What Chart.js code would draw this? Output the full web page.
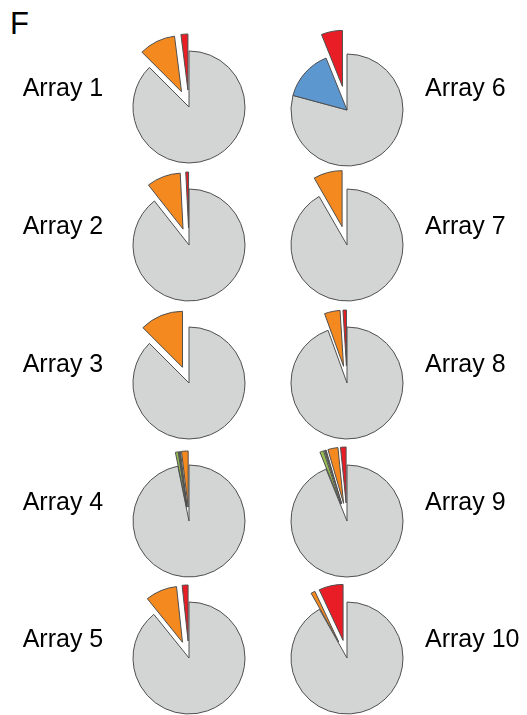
<!DOCTYPE html>
<html>
<head>
<meta charset="utf-8">
<script src="https://cdn.jsdelivr.net/npm/chart.js@4/dist/chart.umd.min.js"></script>
<style>
  html, body { margin: 0; padding: 0; background: #fff; }
  #fig { position: relative; width: 527px; height: 715px; overflow: hidden;
         font-family: "Liberation Sans", Arial, Helvetica, sans-serif; color: #000; }
  .lbl { position: absolute; font-size: 25px; line-height: 25px; white-space: nowrap; }
  .panel { position: absolute; font-size: 31px; line-height: 31px; }
  #fig canvas { position: absolute; }
</style>
</head>
<body>
<div id="fig"></div>
<script>
// Arrays shown, in reading order (left column 1-5, right column 6-10)
const categories = ['Array 1', 'Array 2', 'Array 3', 'Array 4', 'Array 5',
                    'Array 6', 'Array 7', 'Array 8', 'Array 9', 'Array 10'];

// Slice groups, listed clockwise from 12 o'clock
const sliceNames = ['Grey', 'Green', 'Dark', 'Blue', 'Orange', 'Red'];

// Share of each array (%) in every group
const greyShare   = [87.5, 89.4, 87.5, 96.8, 89.2, 79.2, 91.7, 94.5, 93.9, 91.8];
const greenShare  = [0,    0,    0,    0.8,  0,    0,    0,    0,    1.1,  0];
const darkShare   = [0,    0,    0,    0.5,  0,    0,    0,    0,    0.5,  0];
const blueShare   = [0,    0,    0,    0,    0,    14.7, 0,    0,    0,    0];
const orangeShare = [10.5, 9.8,  12.5, 1.9,  9.1,  0,    8.3,  4.5,  2.9,  1.2];
const redShare    = [2.0,  0.8,  0,    0,    1.7,  6.1,  0,    1.0,  1.6,  7.0];

const seriesByGroup = [greyShare, greenShare, darkShare, blueShare, orangeShare, redShare];
const groupColors = ['#d3d4d4', '#97bd50', '#56604c', '#5c97d0', '#f4891f', '#e81d26'];
// groups that stay attached to the pie body
const attachedGroups = ['Grey', 'Blue'];

// pie placement
const colX = [189, 346.5];
const rowY = [107, 245, 383, 521, 658];
const centerShiftY = [0, 0, 0, 0, 0, 3, 0, 0, 0, 0];
const pullOut = [17, 17, 17, 14, 17, 24, 19, 17, 18, 18];
const pieRadius = 56;
const canvasSize = 200;

// Moves detached slices outward along their bisector (keeps the slice radius unchanged)
const explodePlugin = {
  id: 'explode',
  beforeDatasetsDraw(chart) {
    const opts = chart.options.plugins.explode;
    const area = chart.chartArea;
    const cx = (area.left + area.right) / 2;
    const cy = (area.top + area.bottom) / 2;
    chart.getDatasetMeta(0).data.forEach((arc, i) => {
      const name = chart.data.labels[i];
      const d = attachedGroups.includes(name) ? 0 : opts.distance;
      const mid = (arc.startAngle + arc.endAngle) / 2;
      arc.x = cx + Math.cos(mid) * d;
      arc.y = cy + Math.sin(mid) * d;
    });
  }
};

const fig = document.getElementById('fig');

const panel = document.createElement('div');
panel.className = 'panel';
panel.textContent = 'F';
panel.style.left = '10px';
panel.style.top = '7.8px';
fig.appendChild(panel);

categories.forEach((name, k) => {
  const col = k < 5 ? 0 : 1;
  const row = k % 5;
  const cx = colX[col];
  const cy = rowY[row] + centerShiftY[k];

  const canvas = document.createElement('canvas');
  canvas.width = canvasSize;
  canvas.height = canvasSize;
  canvas.style.width = canvasSize + 'px';
  canvas.style.height = canvasSize + 'px';
  canvas.style.left = (cx - canvasSize / 2) + 'px';
  canvas.style.top = (cy - canvasSize / 2) + 'px';
  fig.appendChild(canvas);

  new Chart(canvas, {
    type: 'pie',
    data: {
      labels: sliceNames,
      datasets: [{
        data: seriesByGroup.map(s => s[k]),
        backgroundColor: groupColors,
        borderColor: '#4f4f4f',
        borderWidth: 1
      }]
    },
    options: {
      responsive: false,
      devicePixelRatio: 1,
      animation: false,
      radius: pieRadius,
      rotation: 0,
      layout: { padding: 0 },
      events: [],
      plugins: {
        legend: { display: false },
        tooltip: { enabled: false },
        explode: { distance: pullOut[k] }
      }
    },
    plugins: [explodePlugin]
  });

  const label = document.createElement('div');
  label.className = 'lbl';
  label.textContent = name;
  label.style.left = (col === 0 ? 22.7 : 425) + 'px';
  label.style.top = (rowY[row] - 10.5 - 21.2) + 'px';
  fig.appendChild(label);
});
</script>
</body>
</html>
